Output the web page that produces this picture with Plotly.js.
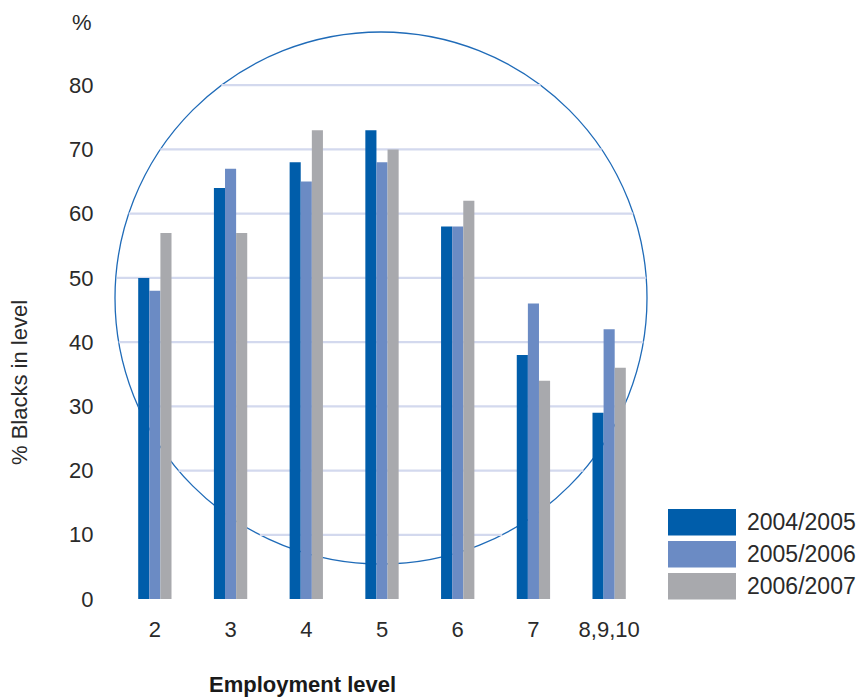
<!DOCTYPE html>
<html>
<head>
<meta charset="utf-8">
<script src="https://cdn.plot.ly/plotly-3.0.1.min.js"></script>
<style>html,body{margin:0;padding:0;background:#fff;}#chart{width:858px;height:699px;}</style>
</head>
<body>
<div id="chart"></div>
<script>
// ---- data ----
const categories = ["2", "3", "4", "5", "6", "7", "8,9,10"];
const seriesNames = ["2004/2005", "2005/2006", "2006/2007"];
const v2004 = [50, 64, 68, 73, 58, 38, 29];
const v2005 = [48, 67, 65, 68, 58, 46, 42];
const v2006 = [57, 57, 73, 70, 62, 34, 36];
const yTickVals = [0, 10, 20, 30, 40, 50, 60, 70, 80];
const gridVals = [10, 20, 30, 40, 50, 60, 70, 80];

// ---- style / layout ----
const colors = ["#005DAA", "#6B8BC4", "#A8A9AD"];
const W = 858, H = 699;
const ml = 117, mr = 211, mt = 21, mb = 100;
const pw = W - ml - mr, ph = H - mt - mb;
const yMax = 90;
const pxPerX = pw / categories.length;
const pxPerY = ph / yMax;
const textFont = "Liberation Sans, Arial, sans-serif";
const textColor = "#2a2a2a";

// pixel -> data / paper helpers
const px2x = px => (px - ml) / pxPerX - 0.5;
const px2p = px => (px - ml) / pw;
const py2p = py => (H - mb - py) / ph;

// background circle (pixel geometry)
const cx = 381, cy = 298, r = 266;

const shapes = [];
// gridlines clipped to circle
gridVals.forEach(v => {
  const pyv = (H - mb) - v * pxPerY;
  const dy = pyv - cy;
  if (Math.abs(dy) < r) {
    const half = Math.sqrt(r * r - dy * dy);
    shapes.push({
      type: "line", layer: "below", xref: "x", yref: "y",
      x0: px2x(cx - half), x1: px2x(cx + half), y0: v, y1: v,
      line: { color: "#D3D9EE", width: 2.2 }
    });
  }
});
shapes.push({
  type: "circle", layer: "below", xref: "paper", yref: "paper",
  x0: px2p(cx - r), x1: px2p(cx + r), y0: py2p(cy + r), y1: py2p(cy - r),
  line: { color: "#1F6BB8", width: 1.3 }
});

// legend boxes
const legTop = [509, 541, 573], legH = 26.5;
const annotations = [];
seriesNames.forEach((n, i) => {
  shapes.push({
    type: "rect", xref: "paper", yref: "paper",
    x0: px2p(668), x1: px2p(736), y0: py2p(legTop[i] + legH), y1: py2p(legTop[i]),
    line: { width: 0 }, fillcolor: colors[i]
  });
  annotations.push({
    xref: "paper", yref: "paper", x: px2p(745), y: py2p(legTop[i] + legH / 2),
    xanchor: "left", yanchor: "middle", showarrow: false, text: n,
    font: { family: textFont, size: 23, color: textColor }
  });
});

annotations.push({
  xref: "paper", yref: "paper", x: px2p(82), y: py2p(22),
  xanchor: "center", yanchor: "middle", showarrow: false, text: "%",
  font: { family: textFont, size: 22, color: textColor }
});
annotations.push({
  xref: "paper", yref: "paper", x: px2p(19), y: py2p(383),
  xanchor: "center", yanchor: "middle", showarrow: false, textangle: -90,
  text: "% Blacks in level",
  font: { family: textFont, size: 22, color: textColor }
});
annotations.push({
  xref: "paper", yref: "paper", x: px2p(302), y: py2p(684),
  xanchor: "center", yanchor: "middle", showarrow: false,
  text: "<b>Employment level</b>",
  font: { family: textFont, size: 22, color: "#1a1a1a" }
});

const traces = [v2004, v2005, v2006].map((vals, i) => ({
  type: "bar", x: categories, y: vals, name: seriesNames[i],
  marker: { color: colors[i], line: { width: 0 } },
  hoverinfo: "x+y+name"
}));

const layout = {
  width: W, height: H,
  margin: { l: ml, r: mr, t: mt, b: mb, pad: 0 },
  paper_bgcolor: "#fff", plot_bgcolor: "rgba(0,0,0,0)",
  showlegend: false,
  barmode: "group", bargap: 0.56, bargroupgap: 0,
  xaxis: {
    type: "category", range: [-0.5, categories.length - 0.5],
    showgrid: false, zeroline: false, showline: false,
    ticks: "outside", ticklen: 11, tickcolor: "rgba(0,0,0,0)",
    tickfont: { family: textFont, size: 22, color: textColor }
  },
  yaxis: {
    range: [0, yMax], tickvals: yTickVals,
    showgrid: false, zeroline: false, showline: false,
    ticks: "outside", ticklen: 18, tickcolor: "rgba(0,0,0,0)",
    tickfont: { family: textFont, size: 22, color: textColor }
  },
  shapes: shapes,
  annotations: annotations
};

Plotly.newPlot("chart", traces, layout, { staticPlot: true });
</script>
</body>
</html>
